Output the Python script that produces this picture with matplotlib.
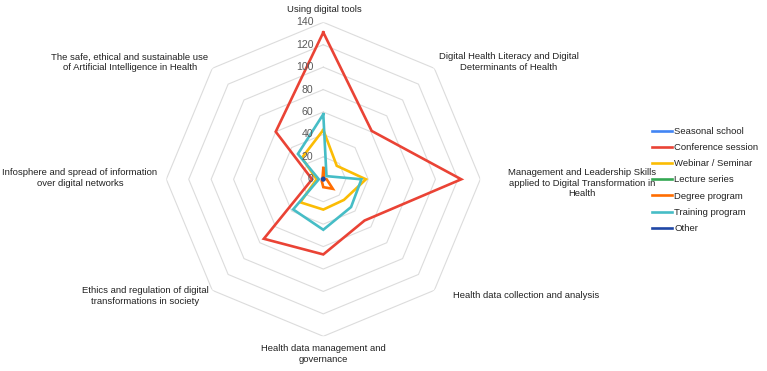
import numpy as np
import matplotlib
matplotlib.use("Agg")
import matplotlib.pyplot as plt
from matplotlib.lines import Line2D
import matplotlib.transforms as mtransforms

plt.rcParams['font.family'] = ['Liberation Sans', 'DejaVu Sans']

categories = [
    "Using digital tools",
    "Digital Health Literacy and Digital\nDeterminants of Health",
    "Management and Leadership Skills\napplied to Digital Transformation in\nHealth",
    "Health data collection and analysis",
    "Health data management and\ngovernance",
    "Ethics and regulation of digital\ntransformations in society",
    "Infosphere and spread of information\nover digital networks",
    "The safe, ethical and sustainable use\nof Artificial Intelligence in Health",
]
series_names = ["Seasonal school", "Conference session", "Webinar / Seminar",
                "Lecture series", "Degree program", "Training program", "Other"]
seasonal_school = [1, 0, 1, 0, 1, 0, 0, 1]
conference_session = [131, 61, 123, 52, 67, 75, 10, 60]
webinar_seminar = [44, 17, 38, 26, 27, 29, 6, 27]
lecture_series = [1, 0, 0, 1, 0, 0, 0, 0]
degree_program = [10, 1, 3, 12, 7, 2, 1, 1]
training_program = [58, 4, 34, 35, 45, 38, 4, 32]
other = [1, 1, 1, 1, 1, 1, 1, 1]
tick_values = [0, 20, 40, 60, 80, 100, 120, 140]

series = [seasonal_school, conference_session, webinar_seminar, lecture_series,
          degree_program, training_program, other]
colors = ["#4285F4", "#EA4335", "#FBBC04", "#34A853", "#FF6D01", "#46BDC6", "#1F47A6"]

W, H = 767, 371
fig = plt.figure(figsize=(W / 100, H / 100), dpi=100)

cx, cy, R = 323.3, 179.3, 157.0
ax = fig.add_axes([(cx - R) / W, (H - cy - R) / H, 2 * R / W, 2 * R / H], projection='polar')
ax.set_theta_zero_location('N')
ax.set_theta_direction(-1)
ax.set_ylim(0, 140)
ax.grid(False)
ax.spines['polar'].set_visible(False)
ax.set_xticks([])
ax.set_yticks([])
ax.patch.set_alpha(0)

n = len(categories)
angles = np.linspace(0, 2 * np.pi, n, endpoint=False)
ang_closed = np.concatenate([angles, angles[:1]])

# polygon grid
for r in tick_values[1:]:
    ax.plot(ang_closed, [r] * (n + 1), color="#dcdcdc", lw=0.8, zorder=1)

# tick labels
off = mtransforms.offset_copy(ax.transData, fig=fig, x=-10, y=0, units='dots')
for r in tick_values:
    ax.text(0, r, str(r), transform=off, ha='right', va='center',
            fontsize=7.6, color='#5a5a5a', zorder=5)

lw = 1.9
for vals, c in zip(series, colors):
    v = list(vals) + [vals[0]]
    ax.plot(ang_closed, v, color=c, lw=lw, solid_joinstyle='miter', zorder=3)

# category labels (pixel centers)
label_pos = [(324, 9), (509, 62), (582, 183), (526, 296), (323, 354),
             (145, 296), (80, 178), (130, 62)]
for txt, (px, py) in zip(categories, label_pos):
    fig.text(px / W, 1 - py / H, txt, ha='center', va='center', fontsize=6.8,
             color='#222222', linespacing=1.15)

handles = [Line2D([0], [0], color=c, lw=1.9) for c in colors]
fig.legend(handles, series_names, loc='center left',
           bbox_to_anchor=(643 / W, 1 - 180 / H), frameon=False, fontsize=6.8,
           handlelength=2.2, handletextpad=0.2, labelspacing=0.76,
           labelcolor='#222222')

fig.savefig("out.png", dpi=100)
